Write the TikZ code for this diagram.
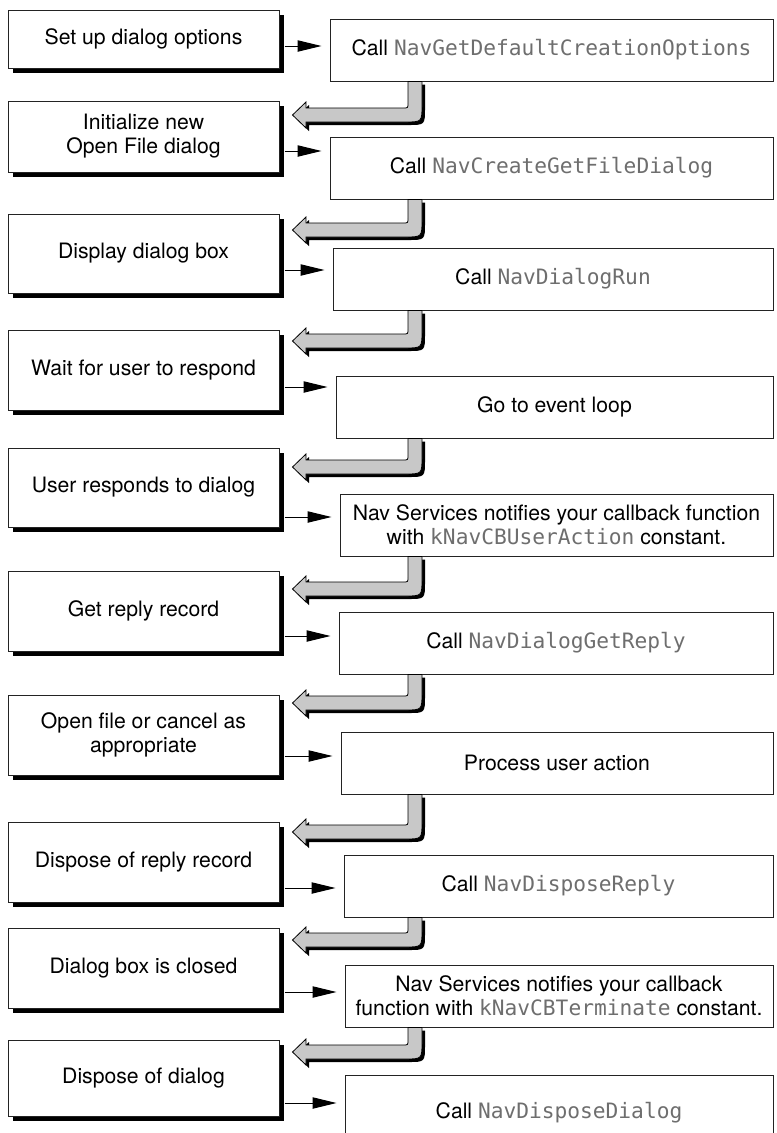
\documentclass[tikz,border=0pt]{standalone}
\usepackage{fontspec}
\setmainfont{TeX Gyre Heros}
\newfontfamily\monofnt{DejaVu Sans Mono}
\usetikzlibrary{arrows.meta,shadows,calc}
\definecolor{arrowfill}{RGB}{200,200,200}
\definecolor{codegray}{RGB}{110,110,110}
\definecolor{edgecol}{RGB}{35,35,35}
\newcommand\cd[1]{{\monofnt\color{codegray}#1}}
\newcommand\hollowarrow[3]{%
  \coordinate (ht) at (#1.south -| 408,0);
  \coordinate (hp) at ([xshift=9.75pt]#2.east |- 0,#3);
  \fill[black, transform canvas={xshift=2.25pt,yshift=-2.25pt}]
    (ht) -- (408,#3-12) .. controls (408,#3-7) .. (403,#3-7) -- (306,#3-7) -- (306,#3-13) -- (hp)
    -- (306,#3+13) -- (306,#3+7) -- (405,#3+7) .. controls (422,#3+7) .. (422,#3-10) -- (ht -| 422,0) -- cycle;
  \filldraw[hollow]
    (ht) -- (408,#3-12) .. controls (408,#3-7) .. (403,#3-7) -- (306,#3-7) -- (306,#3-13) -- (hp)
    -- (306,#3+13) -- (306,#3+7) -- (405,#3+7) .. controls (422,#3+7) .. (422,#3-10) -- (ht -| 422,0) -- cycle;
}
\tikzset{
  lbox/.style={draw=edgecol, line width=0.75pt, fill=white, minimum width=203.25pt, inner sep=2pt, align=center,
    drop shadow={fill=black, opacity=1, shadow xshift=3.75pt, shadow yshift=-3.75pt}},
  rbox/.style={draw=edgecol, line width=0.75pt, fill=white, inner sep=2pt, align=center},
  sarrow/.style={line width=0.75pt, -{Triangle[length=18pt,width=8.5pt]}, shorten <=3.75pt, shorten >=6pt},
  hollow/.style={fill=arrowfill, draw=black, line width=0.6pt}
}
\begin{document}
\begin{tikzpicture}[x=0.75pt,y=-0.75pt, every node/.append style={font=\fontsize{15.9pt}{18pt}\selectfont}]
\useasboundingbox (0,0) rectangle (776,1133);
\clip (0,0) rectangle (776,1133);
% left column
\node[lbox, minimum height=43.5pt]  (L1)  at (143.5,39)    {Set up dialog options};
\node[lbox, minimum height=53.25pt] (L2)  at (143.5,136.5) {Initialize new\\Open File dialog};
\node[lbox, minimum height=59.25pt] (L3)  at (143.5,253.5) {Display dialog box};
\node[lbox, minimum height=60pt]    (L4)  at (143.5,370)   {Wait for user to respond};
\node[lbox, minimum height=59.25pt] (L5)  at (143.5,487.5) {User responds to dialog};
\node[lbox, minimum height=60pt]    (L6)  at (143.5,611)   {Get reply record};
\node[lbox, minimum height=60pt]    (L7)  at (143.5,735)   {Open file or cancel as\\appropriate};
\node[lbox, minimum height=60pt]    (L8)  at (143.5,862)   {Dispose of reply record};
\node[lbox, minimum height=60pt]    (L9)  at (143.5,968)   {Dialog box is closed};
\node[lbox, minimum height=57pt]    (L10) at (143.5,1078)  {Dispose of dialog};
% right column
\node[rbox, minimum width=332.25pt, minimum height=46.5pt] (R1) at (551.5,50) {Call \cd{NavGetDefaultCreationOptions}};
\node[rbox, minimum width=332.25pt, minimum height=46.5pt] (R2) at (551.5,168) {Call \cd{NavCreateGetFileDialog}};
\node[rbox, minimum width=330pt, minimum height=46.5pt] (R3) at (553,279) {Call \cd{NavDialogRun}};
\node[rbox, minimum width=327.75pt, minimum height=46.5pt] (R4) at (554.5,407) {Go to event loop};
\node[rbox, minimum width=324.75pt, minimum height=46.5pt] (R5) at (556.5,525) {Nav Services notifies your callback function\\with \cd{kNavCBUserAction} constant.};
\node[rbox, minimum width=325.5pt, minimum height=46.5pt] (R6) at (556,643) {Call \cd{NavDialogGetReply}};
\node[rbox, minimum width=324pt, minimum height=46.5pt] (R7) at (557,763) {Process user action};
\node[rbox, minimum width=321.75pt, minimum height=46.5pt] (R8) at (558.5,886) {Call \cd{NavDisposeReply}};
\node[rbox, minimum width=321pt, minimum height=46.5pt] (R9) at (559,996) {Nav Services notifies your callback\\function with \cd{kNavCBTerminate} constant.};
\node[rbox, minimum width=321pt, minimum height=56.25pt] (R10) at (559,1112.5) {Call \cd{NavDisposeDialog}};
% small arrows
\draw[sarrow] (L1.east |- 0,46)   -- (R1.west |- 0,46);
\draw[sarrow] (L2.east |- 0,151)  -- (R2.west |- 0,151);
\draw[sarrow] (L3.east |- 0,270)  -- (R3.west |- 0,270);
\draw[sarrow] (L4.east |- 0,387)  -- (R4.west |- 0,387);
\draw[sarrow] (L5.east |- 0,517)  -- (R5.west |- 0,517);
\draw[sarrow] (L6.east |- 0,636)  -- (R6.west |- 0,636);
\draw[sarrow] (L7.east |- 0,756)  -- (R7.west |- 0,756);
\draw[sarrow] (L8.east |- 0,888)  -- (R8.west |- 0,888);
\draw[sarrow] (L9.east |- 0,992)  -- (R9.west |- 0,992);
\draw[sarrow] (L10.east |- 0,1103) -- (R10.west |- 0,1103);
% hollow arrows
\hollowarrow{R1}{L2}{115}
\hollowarrow{R2}{L3}{230}
\hollowarrow{R3}{L4}{341}
\hollowarrow{R4}{L5}{467}
\hollowarrow{R5}{L6}{589}
\hollowarrow{R6}{L7}{703}
\hollowarrow{R7}{L8}{832}
\hollowarrow{R8}{L9}{940}
\hollowarrow{R9}{L10}{1052}
\end{tikzpicture}
\end{document}
